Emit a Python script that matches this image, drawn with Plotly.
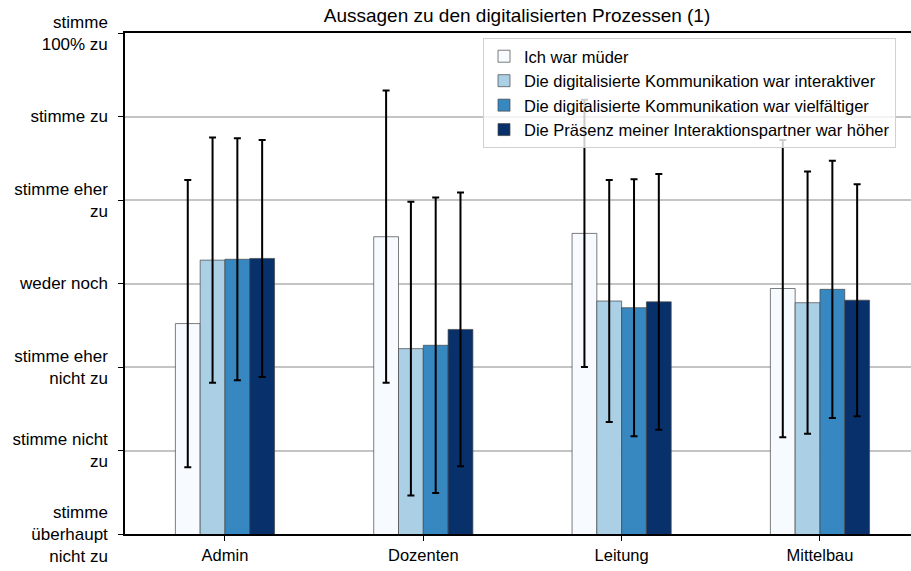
import plotly.graph_objects as go

categories = ["Admin", "Dozenten", "Leitung", "Mittelbau"]
series_names = [
    "Ich war müder",
    "Die digitalisierte Kommunikation war interaktiver",
    "Die digitalisierte Kommunikation war vielfältiger",
    "Die Präsenz meiner Interaktionspartner war höher",
]
means_muede = [3.52, 4.56, 4.60, 3.94]
means_interaktiv = [4.28, 3.22, 3.79, 3.77]
means_vielfaeltig = [4.29, 3.26, 3.71, 3.93]
means_praesenz = [4.30, 3.45, 3.78, 3.80]
sd_muede = [1.72, 1.75, 1.60, 1.78]
sd_interaktiv = [1.47, 1.76, 1.45, 1.57]
sd_vielfaeltig = [1.45, 1.77, 1.54, 1.54]
sd_praesenz = [1.42, 1.64, 1.53, 1.39]

tick_vals = [1, 2, 3, 4, 5, 6, 7]
tick_labels = [
    "stimme<br>überhaupt<br>nicht zu",
    "stimme nicht<br>zu",
    "stimme eher<br>nicht zu",
    "weder noch",
    "stimme eher<br>zu",
    "stimme zu",
    "stimme<br>100% zu",
]
colors = ["#f7fbff", "#abd0e6", "#3787c0", "#08306b"]

means = [means_muede, means_interaktiv, means_vielfaeltig, means_praesenz]
sds = [sd_muede, sd_interaktiv, sd_vielfaeltig, sd_praesenz]

fig = go.Figure()
for name, m, s, c in zip(series_names, means, sds, colors):
    fig.add_trace(go.Bar(
        x=list(range(len(categories))), y=m, name=name, base=0,
        marker=dict(color=c, line=dict(color="rgba(70,70,70,0.7)", width=1)),
        error_y=dict(type="data", array=s, visible=True, color="black",
                     thickness=2, width=3.5),
    ))

font_family = "Liberation Sans, Arial, sans-serif"
fig.update_layout(
    width=911, height=571,
    margin=dict(l=125, r=0, t=33, b=37),
    paper_bgcolor="white", plot_bgcolor="white",
    barmode="group", bargap=0.5, bargroupgap=0,
    font=dict(family=font_family, size=16, color="black"),
    title=dict(text="Aussagen zu den digitalisierten Prozessen (1)",
               x=517 / 911, xref="container", xanchor="center",
               y=1 - 15 / 571, yref="container", yanchor="middle",
               font=dict(size=19)),
    legend=dict(x=(483 - 125) / 786, y=(534 - 38) / 501,
                xanchor="left", yanchor="top",
                bgcolor="rgba(255,255,255,0.8)", bordercolor="#d0d0d0",
                borderwidth=1, font=dict(size=16.5), traceorder="normal",
                tracegroupgap=0),
    showlegend=True,
)
fig.update_xaxes(
    range=[-0.504, 3.459], tickmode="array",
    tickvals=list(range(len(categories))), ticktext=categories,
    tickfont=dict(size=16.5),
    showline=True, linecolor="black", linewidth=1.5, mirror=True,
    ticks="outside", ticklen=5, tickcolor="black", showgrid=False,
    zeroline=False,
)
fig.update_yaxes(
    range=[1, 7], tickmode="array", tickvals=tick_vals, ticktext=tick_labels,
    tickfont=dict(size=17), ticklabelstandoff=7,
    showline=True, linecolor="black", linewidth=1.5, mirror=False,
    ticks="outside", ticklen=5, tickcolor="black",
    showgrid=True, gridcolor="#c4c4c4", gridwidth=1.5, zeroline=False,
)

fig.write_html("out.html", config={"displayModeBar": False},
               post_script="document.body.style.margin='0';")
